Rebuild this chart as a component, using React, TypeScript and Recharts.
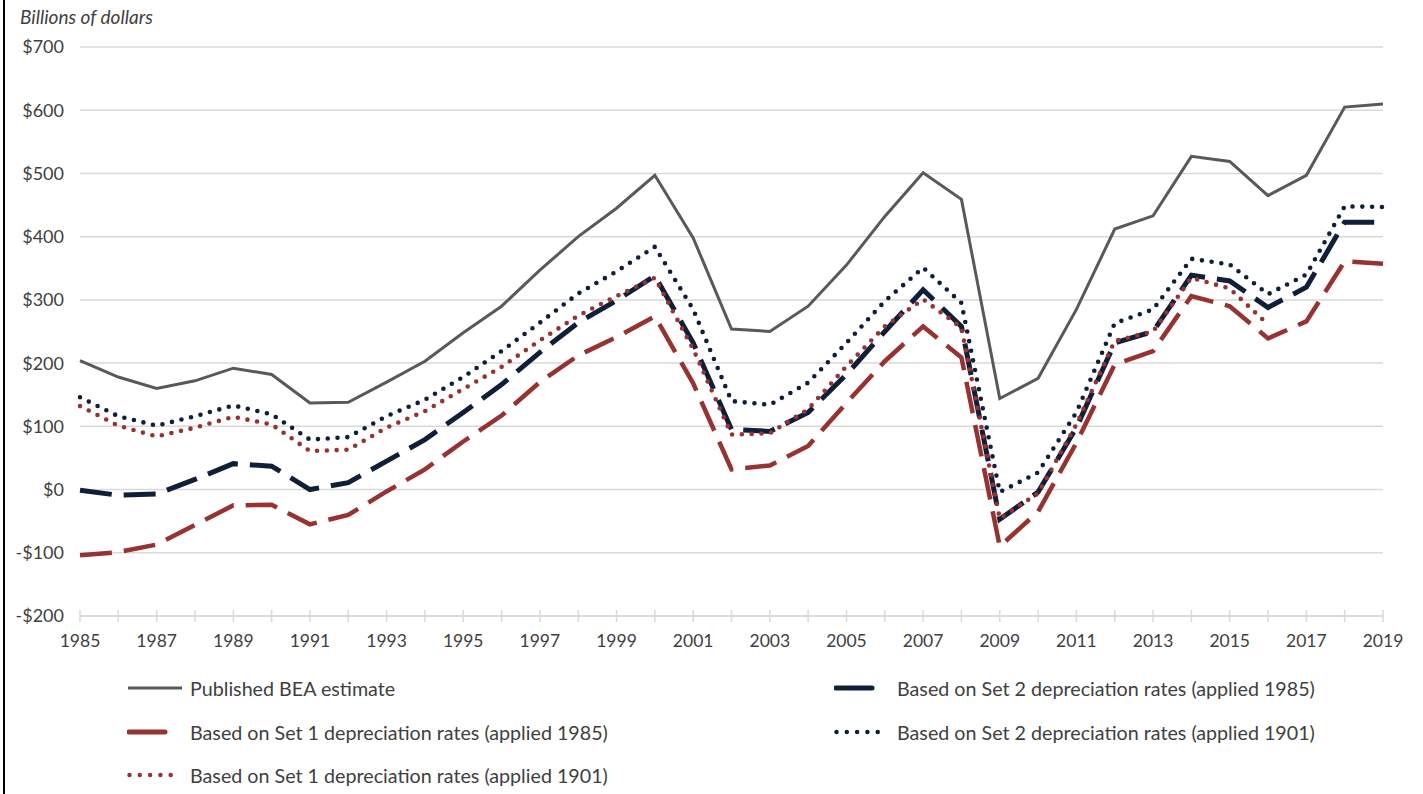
import React from 'react';
import { LineChart, Line, XAxis, YAxis, CartesianGrid } from 'recharts';

const YEARS = [
  1985, 1986, 1987, 1988, 1989, 1990, 1991, 1992, 1993, 1994,
  1995, 1996, 1997, 1998, 1999, 2000, 2001, 2002, 2003, 2004,
  2005, 2006, 2007, 2008, 2009, 2010, 2011, 2012, 2013, 2014,
  2015, 2016, 2017, 2018, 2019,
];

// billions of dollars
const PUBLISHED_BEA = [
  204, 178, 160, 172, 192, 182, 137, 138, 170, 203,
  248, 290, 347, 400, 445, 497, 398, 254, 250, 290,
  355, 432, 501, 459, 144, 176, 285, 412, 433, 527,
  519, 465, 497, 605, 610,
];
const SET1_1985 = [
  -104, -99, -87, -56, -25, -24, -55, -40, -3, 32,
  76, 117, 170, 212, 241, 274, 168, 32, 38, 69,
  137, 203, 258, 209, -90, -35, 74, 198, 219, 306,
  290, 239, 266, 361, 357,
];
const SET1_1901 = [
  132, 101, 84, 98, 115, 103, 61, 63, 98, 124,
  159, 194, 236, 275, 306, 335, 222, 87, 89, 127,
  195, 258, 301, 256, -46, -6, 103, 235, 250, 335,
  318, 261, null, null, null,
];
const SET2_1985 = [
  -1, -9, -7, 16, 41, 37, 0, 11, 45, 79,
  122, 166, 217, 264, 299, 338, 232, 95, 92, 122,
  182, 250, 316, 258, -47, -4, 98, 232, 250, 339,
  330, 288, 320, 423, 423,
];
const SET2_1901 = [
  146, 116, 101, 116, 133, 119, 79, 83, 116, 142,
  178, 219, 264, 310, 345, 384, 285, 140, 134, 169,
  232, 298, 351, 295, -4, 27, 122, 263, 285, 365,
  356, 309, 340, 448, 447,
];

const Y_TICKS = [-200, -100, 0, 100, 200, 300, 400, 500, 600, 700];

const GRAY = '#595959';
const NAVY = '#0f1f3a';
const RED = '#973230';
const TEXT = '#404040';
const FONT = 'Lato, "Open Sans", sans-serif';

const data = YEARS.map((year, i) => ({
  year,
  published: PUBLISHED_BEA[i],
  set1_1985: SET1_1985[i],
  set1_1901: SET1_1901[i],
  set2_1985: SET2_1985[i],
  set2_1901: SET2_1901[i],
}));

const DASH = '32 12';
const DOTS = '0 9.8';

function fmtDollar(v: number) {
  return v < 0 ? `-$${Math.abs(v)}` : `$${v}`;
}

// every year gets a tick crossing the axis, only odd years get a label
function YearTick({ x, y, payload }: { x?: number; y?: number; payload?: { value: number } }) {
  if (x == null || y == null || !payload) return null;
  return (
    <g>
      <line x1={x} x2={x} y1={y - 6} y2={y + 6} stroke="#d9d9d9" strokeWidth={1.5} />
      {payload.value % 2 === 1 && (
        <text x={x} y={y + 31} textAnchor="middle" fill={TEXT} fontSize={17.5} fontFamily={FONT}>
          {payload.value}
        </text>
      )}
    </g>
  );
}

type LegendItem = { label: string; color: string; kind: 'solid' | 'dash' | 'dot'; left: number; top: number; width: number };

const LEGEND: LegendItem[] = [
  { label: 'Published BEA estimate', color: GRAY, kind: 'solid', left: 127, top: 688, width: 56 },
  { label: 'Based on Set 1 depreciation rates (applied 1985)', color: RED, kind: 'dash', left: 127, top: 732, width: 56 },
  { label: 'Based on Set 1 depreciation rates (applied 1901)', color: RED, kind: 'dot', left: 127, top: 775, width: 56 },
  { label: 'Based on Set 2 depreciation rates (applied 1985)', color: NAVY, kind: 'dash', left: 834, top: 688, width: 56 },
  { label: 'Based on Set 2 depreciation rates (applied 1901)', color: NAVY, kind: 'dot', left: 834, top: 732, width: 56 },
];

function LegendSwatch({ item }: { item: LegendItem }) {
  const w = item.width;
  if (item.kind === 'solid') {
    return (
      <svg width={w} height={10}>
        <line x1={1} x2={w - 1} y1={5} y2={5} stroke={item.color} strokeWidth={3} />
      </svg>
    );
  }
  if (item.kind === 'dash') {
    return (
      <svg width={w} height={10}>
        <line x1={2} x2={38} y1={5} y2={5} stroke={item.color} strokeWidth={5} strokeLinecap="round" />
      </svg>
    );
  }
  return (
    <svg width={w} height={10}>
      <line x1={2.5} x2={w - 2} y1={5} y2={5} stroke={item.color} strokeWidth={4.5} strokeLinecap="round" strokeDasharray="0 10.3" />
    </svg>
  );
}

export default function App() {
  return (
    <div style={{ position: 'absolute', left: 0, top: 0, width: 1423, height: 794, background: '#fff', overflow: 'hidden', fontFamily: FONT }}>
      <div style={{ position: 'absolute', left: 3, top: 0, width: 2, height: 794, background: '#000' }} />
      <div style={{ position: 'absolute', left: 20, top: 7, fontSize: 19, lineHeight: '19px', fontStyle: 'italic', color: TEXT }}>
        Billions of dollars
      </div>

      <LineChart width={1423} height={794} data={data} margin={{ top: 47, right: 40, bottom: 138, left: 0 }}>
        <CartesianGrid vertical={false} stroke="#d9d9d9" strokeWidth={1.5} />
        <XAxis
          dataKey="year"
          type="number"
          domain={[1985, 2019]}
          ticks={YEARS}
          interval={0}
          height={40}
          tickSize={0}
          tickMargin={0}
          tickLine={false}
          axisLine={{ stroke: '#d9d9d9', strokeWidth: 1.5 }}
          tick={<YearTick />}
        />
        <YAxis
          domain={[-200, 700]}
          ticks={Y_TICKS}
          width={80}
          axisLine={false}
          tickLine={false}
          tickMargin={10}
          tickFormatter={fmtDollar}
          tick={{ fill: TEXT, fontSize: 18, fontFamily: FONT }}
        />
        <Line type="linear" dataKey="published" stroke={GRAY} strokeWidth={3} dot={false} isAnimationActive={false} />
        <Line type="linear" dataKey="set2_1985" stroke={NAVY} strokeWidth={5} strokeDasharray={DASH} dot={false} isAnimationActive={false} />
        <Line type="linear" dataKey="set1_1985" stroke={RED} strokeWidth={4.5} strokeDasharray={DASH} dot={false} isAnimationActive={false} />
        <Line type="linear" dataKey="set2_1901" stroke={NAVY} strokeWidth={4.6} strokeDasharray={DOTS} strokeLinecap="round" dot={false} isAnimationActive={false} />
        <Line type="linear" dataKey="set1_1901" stroke={RED} strokeWidth={4.6} strokeDasharray={DOTS} strokeLinecap="round" dot={false} isAnimationActive={false} />
      </LineChart>

      {LEGEND.map((item) => (
        <div
          key={item.label}
          style={{ position: 'absolute', left: item.left, top: item.top - 12, height: 24, display: 'flex', alignItems: 'center', fontSize: 19.7, color: TEXT, whiteSpace: 'nowrap' }}
        >
          <LegendSwatch item={item} />
          <span style={{ marginLeft: 7 }}>{item.label}</span>
        </div>
      ))}
    </div>
  );
}
